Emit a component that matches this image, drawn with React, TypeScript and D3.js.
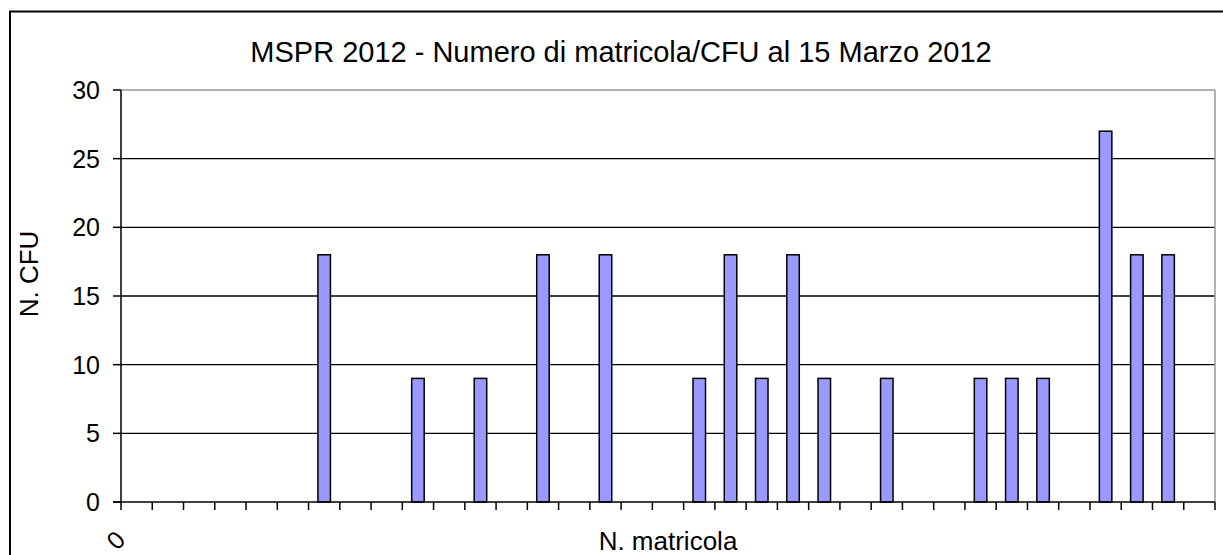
import React from "react";
import * as d3 from "d3";

const title = "MSPR 2012 - Numero di matricola/CFU al 15 Marzo 2012";
const xTitle = "N. matricola";
const yTitle = "N. CFU";
const cfu = [0, 0, 0, 0, 0, 0, 18, 0, 0, 9, 0, 9, 0, 18, 0, 18, 0, 0, 9, 18, 9, 18, 9, 0, 9, 0, 0, 9, 9, 9, 0, 27, 18, 18, 0];
const categories = cfu.map((_, i) => String(i));
const xTickLabels = ["0"];
const yTicks = [0, 5, 10, 15, 20, 25, 30];

const W = 1223;
const H = 555;
const plot = { left: 121, right: 1215, top: 90, bottom: 502 };
const font = "'Liberation Sans', Arial, sans-serif";

export default function App() {
  const x = d3.scaleBand<string>().domain(categories).range([plot.left, plot.right]).paddingInner(0).paddingOuter(0);
  const y = d3.scaleLinear().domain([0, 30]).range([plot.bottom, plot.top]);
  const bw = x.bandwidth() / 2.5;
  const bounds = d3.range(categories.length + 1).map((i) => plot.left + i * x.step());

  return (
    <svg width={W} height={H} style={{ position: "absolute", left: 0, top: 0, background: "#fff" }} fontFamily={font}>
      <rect x={0} y={0} width={W} height={H} fill="#fff" />
      <rect x={10} y={11.5} width={1230} height={600} fill="none" stroke="#000" strokeWidth={2} />
      <text x={621} y={62} textAnchor="middle" fontSize={29} fill="#000">{title}</text>
      {yTicks.filter((t) => t > 0 && t < 30).map((t) => (
        <line key={t} x1={plot.left} x2={plot.right} y1={y(t)} y2={y(t)} stroke="#000" strokeWidth={1.3} />
      ))}
      <line x1={plot.left} x2={plot.right} y1={plot.top} y2={plot.top} stroke="#999" strokeWidth={1.5} />
      <line x1={plot.right} x2={plot.right} y1={plot.top} y2={plot.bottom} stroke="#999" strokeWidth={1.5} />
      {cfu.map((v, i) =>
        v > 0 ? (
          <rect
            key={i}
            x={(x(categories[i]) as number) + (x.bandwidth() - bw) / 2}
            y={y(v)}
            width={bw}
            height={y(0) - y(v)}
            fill="#9999FF"
            stroke="#000"
            strokeWidth={1.5}
          />
        ) : null
      )}
      <line x1={plot.left} x2={plot.left} y1={plot.top} y2={plot.bottom} stroke="#000" strokeWidth={1.5} />
      {yTicks.map((t) => (
        <g key={t}>
          <line x1={plot.left - 8} x2={plot.left} y1={y(t)} y2={y(t)} stroke="#000" strokeWidth={1.5} />
          <text x={100} y={y(t)} dy="0.36em" textAnchor="end" fontSize={25} fill="#000">{t}</text>
        </g>
      ))}
      <line x1={plot.left - 8} x2={plot.right} y1={plot.bottom} y2={plot.bottom} stroke="#000" strokeWidth={1.5} />
      {bounds.map((bx, i) => (
        <line key={i} x1={bx} x2={bx} y1={plot.bottom} y2={plot.bottom + 8} stroke="#000" strokeWidth={1.5} />
      ))}
      {xTickLabels.map((l, i) => (
        <text
          key={i}
          transform={`translate(${(x(categories[i]) as number) + x.bandwidth() / 2 - 21},${540}) rotate(-45)`}
          textAnchor="middle"
          dy="0.36em"
          fontSize={25}
          fill="#000"
        >
          {l}
        </text>
      ))}
      <text x={(plot.left + plot.right) / 2} y={550} textAnchor="middle" fontSize={26} fill="#000">{xTitle}</text>
      <text transform={`translate(38,${274}) rotate(-90)`} textAnchor="middle" fontSize={26} fill="#000">{yTitle}</text>
    </svg>
  );
}
